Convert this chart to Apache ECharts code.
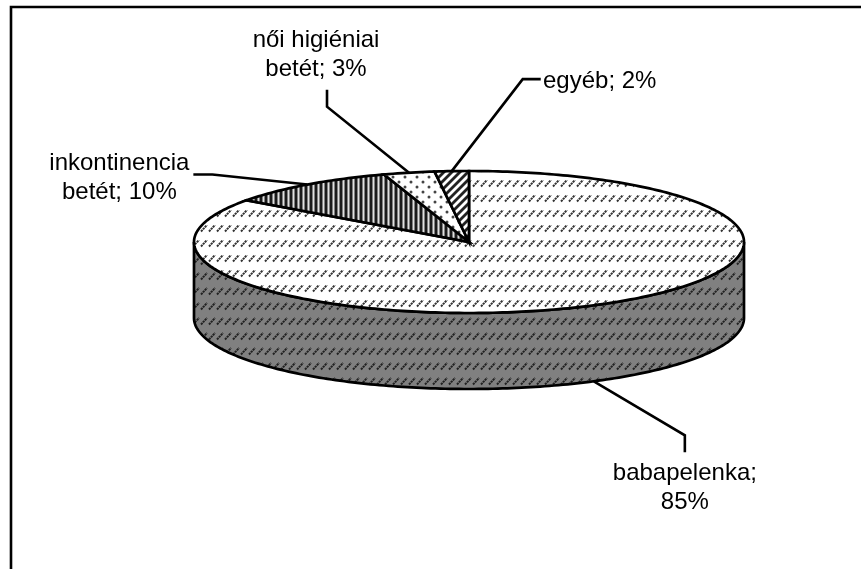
<!DOCTYPE html>
<html>
<head>
<meta charset="utf-8">
<style>html,body{margin:0;padding:0;background:#fff}#c{width:861px;height:569px}</style>
<script src="https://cdn.jsdelivr.net/npm/echarts@6/dist/echarts.min.js"></script>
</head>
<body>
<div id="c"></div>
<script>
const categories = ['babapelenka', 'inkontinencia betét', 'női higiéniai betét', 'egyéb'];
const shares = [85, 10, 3, 2];
const labelTexts = ['babapelenka;\n85%', 'inkontinencia\nbetét; 10%', 'női higiéniai\nbetét; 3%', 'egyéb; 2%'];

function tile(w, h, bg, draw) {
  const c = document.createElement('canvas');
  c.width = w; c.height = h;
  const x = c.getContext('2d');
  x.fillStyle = bg; x.fillRect(0, 0, w, h);
  draw(x);
  return { image: c, repeat: 'repeat' };
}
function dashes(ink, off) {
  return function (x) {
    x.strokeStyle = ink; x.lineWidth = 2; x.lineCap = 'butt';
    x.setLineDash([2.2, 0.6]);
    x.beginPath(); x.moveTo(1, off + 3.5); x.lineTo(7, off - 3); x.stroke();
  };
}
const patterns = [
  tile(8, 15, '#ffffff', dashes('#333', 3)),
  tile(5, 5, '#ffffff', function (x) {
    x.fillStyle = '#1a1a1a'; x.fillRect(0, 0, 2, 5);
    x.fillStyle = '#808080'; x.fillRect(2, 0, 1, 5);
    x.fillStyle = '#e0e0e0'; x.fillRect(3, 0, 1, 5);
    x.fillStyle = '#808080'; x.fillRect(4, 0, 1, 5);
  }),
  tile(12, 10, '#ffffff', function (x) {
    x.fillStyle = '#444';
    [[3, 2], [9, 7]].forEach(function (p) {
      x.beginPath(); x.arc(p[0], p[1], 1.5, 0, 7); x.fill();
    });
  }),
  tile(8, 8, '#ffffff', function (x) {
    x.strokeStyle = '#222'; x.lineWidth = 2.8;
    [-8, 0, 8, 16].forEach(function (o) {
      x.beginPath(); x.moveTo(o - 1, 9); x.lineTo(o + 9, -1); x.stroke();
    });
  })
];
const sidePattern = tile(8, 15, '#808080', dashes('#222', 6));

const cx = 469, cy = 242, rx = 275, ry = 71, depth = 76;
const total = shares.reduce(function (a, b) { return a + b; }, 0);
function pt(deg, dy) {
  const r = deg * Math.PI / 180;
  return [cx + rx * Math.sin(r), cy - ry * Math.cos(r) + (dy || 0)];
}
function arc(a0, a1, dy) {
  const out = [], n = Math.max(2, Math.ceil(Math.abs(a1 - a0)));
  for (let i = 0; i <= n; i++) out.push(pt(a0 + (a1 - a0) * i / n, dy));
  return out;
}
// Leader elbows relative to the slice's mid-rim anchor, and label centres relative to the last elbow.
const leaderOffsets = [
  { dy: depth, path: [[91, 54], [91, 71]], label: [0, 36] },
  { dy: 0, path: [[-95, -10], [-114, -10]], label: [-74, 3] },
  { dy: 0, path: [[-82, -66], [-82, -83]], label: [-11, -35] },
  { dy: 0, path: [[71, -92], [89, -92]], label: [59, 2] }
];

function renderItem(params, api) {
  const i = api.value(1);
  const v = api.value(0);
  let before = 0;
  for (let k = 0; k < i; k++) before += shares[k];
  const a0 = before / total * 360, a1 = (before + v) / total * 360, mid = (a0 + a1) / 2;
  const children = [];
  const line = { stroke: '#000', lineWidth: 2.7, lineJoin: 'miter' };
  if (i === 0) {
    const s0 = Math.max(a0, 90), s1 = Math.min(a1, 270);
    const pts = arc(s0, s1, 0).concat(arc(s1, s0, depth));
    children.push({ type: 'polygon', shape: { points: pts }, style: Object.assign({ fill: sidePattern }, line) });
  }
  const top = [[cx, cy]].concat(arc(a0, a1, 0));
  children.push({ type: 'polygon', shape: { points: top }, style: Object.assign({ fill: patterns[i] }, line) });
  const off = leaderOffsets[i];
  const anchor = pt(mid, off.dy);
  const lead = [anchor].concat(off.path.map(function (p) { return [anchor[0] + p[0], anchor[1] + p[1]]; }));
  children.push({ type: 'polyline', shape: { points: lead }, style: { stroke: '#000', lineWidth: 2.6, fill: null } });
  const end = lead[lead.length - 1];
  children.push({
    type: 'text',
    style: {
      text: labelTexts[i], x: end[0] + off.label[0], y: end[1] + off.label[1],
      fill: '#000', font: '24px "Liberation Sans", Arial, sans-serif',
      align: 'center', verticalAlign: 'middle', lineHeight: 29
    }
  });
  return { type: 'group', children: children };
}

const chart = echarts.init(document.getElementById('c'), null, { renderer: 'canvas', devicePixelRatio: 1 });
chart.setOption({
  animation: false,
  backgroundColor: '#fff',
  graphic: [
    { type: 'polyline', shape: { points: [[11, 569], [11, 7], [861, 7]] }, style: { stroke: '#000', lineWidth: 2.6, fill: null } }
  ],
  series: [{
    type: 'custom',
    coordinateSystem: 'none',
    silent: true,
    renderItem: renderItem,
    data: shares.map(function (s, i) { return { name: categories[i], value: [s, i] }; })
  }]
});
</script>
</body>
</html>
